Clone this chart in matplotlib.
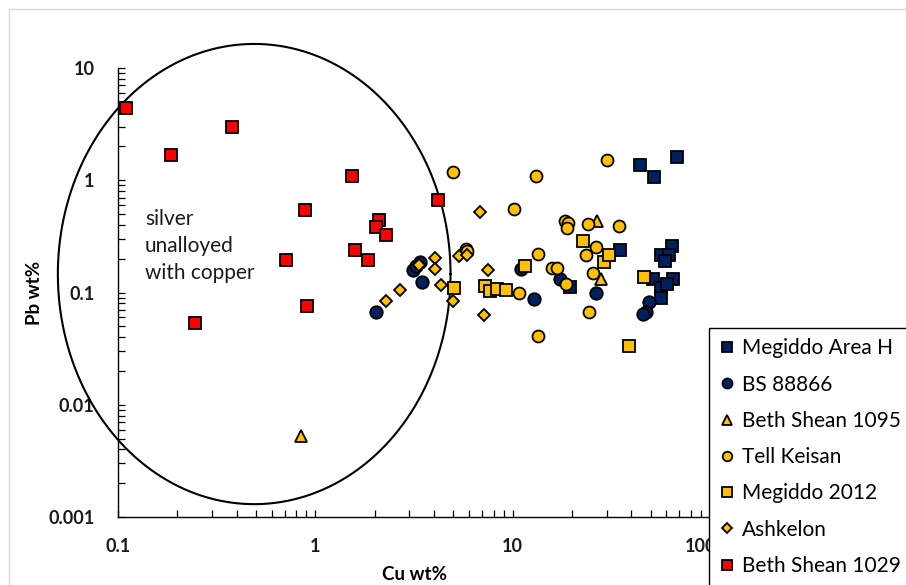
import numpy as np
import matplotlib
matplotlib.use('Agg')
import matplotlib.pyplot as plt
import matplotlib.transforms as mtransforms
from matplotlib.patches import Rectangle
from matplotlib.ticker import FixedLocator, FixedFormatter, LogLocator, NullFormatter

plt.rcParams['font.family'] = ['Lato', 'DejaVu Sans']

# ---------------- data ----------------
megiddo_h_cu = [44.1, 52, 68, 64.1, 56.4, 61.9, 59.1, 51.4, 64.9, 56.4, 60.3, 56.4, 34.9, 19.5]
megiddo_h_pb = [1.36, 1.06, 1.60, 0.258, 0.215, 0.215, 0.19, 0.131, 0.131, 0.109, 0.118, 0.0889, 0.238, 0.111]

bs88866_cu = [2.02, 3.11, 3.22, 3.41, 3.49, 11.0, 12.8, 17.3, 26.4, 49.0, 47.3, 46.0]
bs88866_pb = [0.0667, 0.158, 0.171, 0.186, 0.123, 0.161, 0.0871, 0.131, 0.0985, 0.0818, 0.0667, 0.064]

bs1095_cu = [0.849, 26.7, 28.0]
bs1095_pb = [0.00524, 0.431, 0.131]

tell_keisan_cu = [30.0, 13.2, 10.2, 18.4, 19.0, 18.8, 24.0, 34.5, 26.4, 23.5, 13.4, 15.8, 16.7,
                  18.6, 25.5, 10.8, 24.3, 13.4, 4.96, 5.77, 5.9]
tell_keisan_pb = [1.51, 1.085, 0.552, 0.431, 0.42, 0.373, 0.406, 0.389, 0.253, 0.215, 0.219, 0.164, 0.164,
                  0.118, 0.148, 0.0985, 0.0667, 0.0408, 1.18, 0.243, 0.235]

megiddo2012_cu = [5.02, 7.21, 7.7, 8.3, 9.2, 11.5, 22.7, 29.0, 30.7, 46.2, 38.8]
megiddo2012_pb = [0.109, 0.114, 0.104, 0.108, 0.105, 0.171, 0.286, 0.186, 0.215, 0.137, 0.0332]

ashkelon_cu = [2.27, 2.70, 3.37, 4.02, 4.02, 4.31, 4.96, 5.32, 5.84, 6.8, 7.47, 7.13]
ashkelon_pb = [0.0836, 0.105, 0.175, 0.202, 0.161, 0.116, 0.0836, 0.21, 0.215, 0.519, 0.158, 0.0627]

bs1029_cu = [0.110, 0.379, 0.186, 1.54, 0.89, 1.58, 0.71, 0.91, 0.246, 2.09, 2.04, 2.27, 1.84, 4.16]
bs1029_pb = [4.38, 2.97, 1.67, 1.085, 0.54, 0.238, 0.194, 0.0755, 0.0532, 0.44, 0.381, 0.324, 0.194, 0.664]

x_tick_values = [0.1, 1, 10, 100]
x_tick_labels = ['0.1', '1', '10', '100']
y_tick_values = [0.001, 0.01, 0.1, 1, 10]
y_tick_labels = ['0.001', '0.01', '0.1', '1', '10']

# ellipse (log10 centre and half-widths in decades)
ellipse_cx, ellipse_cy = np.log10(0.49), np.log10(0.146)
ellipse_ax, ellipse_ay = 0.995, 2.05

NAVY = '#002060'
YELLOW = '#FFC000'
RED = '#FF0000'

# ---------------- figure ----------------
W, H = 906, 585
fig = plt.figure(figsize=(W / 100, H / 100), dpi=100)
L, R, T, B = 118, 710, 68, 517
ax = fig.add_axes([L / W, 1 - B / H, (R - L) / W, (B - T) / H])

# faint outer chart frame
fig.add_artist(Rectangle((9 / W, -0.1), 1.2, 1.1 - 9 / H, transform=fig.transFigure,
                         fill=False, edgecolor='#d9d9d9', lw=1.0))

series = [
    ('Megiddo Area H', megiddo_h_cu, megiddo_h_pb, 's', NAVY, 8.4),
    ('BS 88866', bs88866_cu, bs88866_pb, 'o', NAVY, 9.0),
    ('Beth Shean 1095', bs1095_cu, bs1095_pb, '^', YELLOW, 9.0),
    ('Tell Keisan', tell_keisan_cu, tell_keisan_pb, 'o', YELLOW, 8.6),
    ('Megiddo 2012', megiddo2012_cu, megiddo2012_pb, 's', YELLOW, 8.4),
    ('Ashkelon', ashkelon_cu, ashkelon_pb, 'D', YELLOW, 6.3),
    ('Beth Shean 1029', bs1029_cu, bs1029_pb, 's', RED, 8.4),
]
for name, xs, ys, mk, col, ms in series:
    ax.plot(xs, ys, ls='none', marker=mk, ms=ms, mfc=col, mec='black', mew=1.3,
            label=name, clip_on=False, zorder=3)

# ellipse drawn in log space
t = np.linspace(0, 2 * np.pi, 400)
ax.plot(10 ** (ellipse_cx + ellipse_ax * np.cos(t)), 10 ** (ellipse_cy + ellipse_ay * np.sin(t)),
        color='black', lw=1.5, clip_on=False, zorder=2)

ax.set_xscale('log')
ax.set_yscale('log')
ax.set_xlim(0.1, 100)
ax.set_ylim(0.001, 10)

ax.xaxis.set_major_locator(FixedLocator(x_tick_values))
ax.xaxis.set_major_formatter(FixedFormatter(x_tick_labels))
ax.yaxis.set_major_locator(FixedLocator(y_tick_values))
ax.yaxis.set_major_formatter(FixedFormatter(y_tick_labels))
ax.xaxis.set_minor_locator(LogLocator(base=10, subs=np.arange(2, 10)))
ax.yaxis.set_minor_locator(LogLocator(base=10, subs=np.arange(2, 10)))
ax.xaxis.set_minor_formatter(NullFormatter())
ax.yaxis.set_minor_formatter(NullFormatter())

ax.tick_params(axis='both', which='both', direction='in', length=5, width=0.9, color='black')
ax.tick_params(axis='x', which='major', pad=15)
ax.tick_params(axis='y', which='major', pad=17)
for lab in ax.get_xticklabels() + ax.get_yticklabels():
    lab.set_fontweight('bold')
    lab.set_fontsize(13)
    lab.set_color('#1a1a1a')

# the last x label sits slightly left, as in the reference
last = ax.get_xticklabels()[-1]
last.set_transform(last.get_transform() + mtransforms.ScaledTranslation(-9 / 100, 0, fig.dpi_scale_trans))

for s in ['top', 'right']:
    ax.spines[s].set_visible(False)
for s in ['left', 'bottom']:
    ax.spines[s].set_linewidth(1.0)
    ax.spines[s].set_color('black')

ax.set_xlabel('Cu wt%', fontsize=13.5, fontweight='bold', labelpad=8)
ax.set_ylabel('Pb wt%', fontsize=13.5, fontweight='bold', labelpad=4)

ax.text((145 - L) / (R - L), (B - 209) / (B - T), 'silver\nunalloyed\nwith copper',
        transform=ax.transAxes, fontsize=15, va='top', ha='left', linespacing=1.45, color='#1a1a1a')

leg = ax.legend(loc='upper left', bbox_to_anchor=(709 / W, 1 - 328 / H), bbox_transform=fig.transFigure,
                borderaxespad=0, fontsize=15, markerscale=0.8, handlelength=0.75, handletextpad=0.35,
                labelspacing=0.78, borderpad=0.5, fancybox=False, framealpha=1, edgecolor='black')
leg.get_frame().set_linewidth(1.0)

fig.savefig('out.png', dpi=100)
